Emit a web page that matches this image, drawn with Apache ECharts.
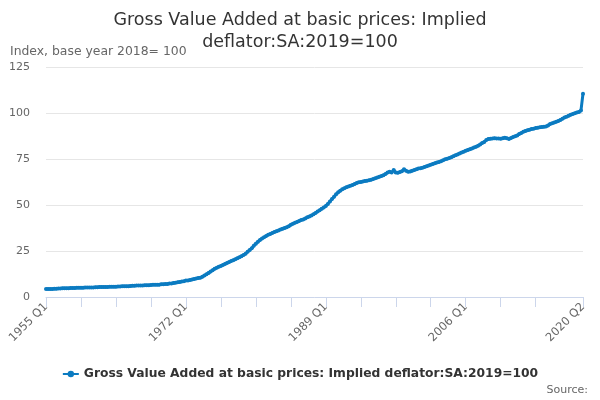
<!DOCTYPE html>
<html>
<head>
<meta charset="utf-8">
<script src="https://cdn.jsdelivr.net/npm/echarts@6/dist/echarts.min.js"></script>
<style>
  html, body { margin: 0; padding: 0; background: #fff; }
  #chart { width: 600px; height: 400px; }
</style>
</head>
<body>
<div id="chart"></div>
<script>
var firstYear = 1955;
var quarterNames = ['Q1', 'Q2', 'Q3', 'Q4'];
var yTicks = [0, 25, 50, 75, 100, 125];
var seriesName = 'Gross Value Added at basic prices: Implied deflator:SA:2019=100';

// one row per year, Q1..Q4 (2020 has Q1, Q2 only)
var values = [
    4.3, 4.3, 4.4, 4.4,      // 1955
    4.5, 4.5, 4.6, 4.6,
    4.7, 4.7, 4.8, 4.8,
    4.9, 4.9, 4.9, 5.0,
    5.0, 5.0, 5.0, 5.1,
    5.1, 5.1, 5.2, 5.2,      // 1960
    5.3, 5.3, 5.4, 5.4,
    5.5, 5.5, 5.5, 5.6,
    5.6, 5.6, 5.6, 5.7,
    5.7, 5.8, 5.8, 5.9,
    5.9, 6.0, 6.1, 6.1,      // 1965
    6.2, 6.2, 6.3, 6.3,
    6.4, 6.4, 6.4, 6.5,
    6.6, 6.6, 6.7, 6.7,
    6.9, 6.9, 7.0, 7.1,
    7.3, 7.4, 7.6, 7.8,      // 1970
    8.0, 8.2, 8.4, 8.6,
    8.9, 9.0, 9.2, 9.5,
    9.8, 10.0, 10.3, 10.5,
    11.0, 11.7, 12.4, 13.1,
    13.8, 14.6, 15.3, 15.9,  // 1975
    16.5, 16.9, 17.4, 18.0,
    18.5, 19.0, 19.5, 20.0,
    20.5, 21.1, 21.6, 22.2,
    22.8, 23.5, 24.6, 25.5,
    26.5, 27.8, 29.0, 30.0,  // 1980
    31.0, 31.8, 32.5, 33.1,
    33.8, 34.3, 34.8, 35.3,
    35.8, 36.2, 36.7, 37.1,
    37.5, 37.9, 38.5, 39.2,
    39.8, 40.3, 40.8, 41.3,  // 1985
    41.8, 42.1, 42.7, 43.3,
    43.8, 44.3, 45.0, 45.7,
    46.5, 47.2, 47.9, 48.7,
    49.5, 50.6, 51.9, 53.2,
    54.5, 55.8, 56.9, 57.8,  // 1990
    58.5, 59.1, 59.7, 60.1,
    60.5, 60.9, 61.4, 61.9,
    62.3, 62.5, 62.8, 63.0,
    63.2, 63.4, 63.7, 64.1,
    64.5, 64.9, 65.3, 65.7,  // 1995
    66.2, 66.9, 67.6, 68.1,
    67.7, 69.0, 67.7, 67.5,
    67.9, 68.4, 69.4, 68.6,
    68.1, 68.2, 68.6, 69.0,
    69.4, 69.8, 70.0, 70.3,  // 2000
    70.7, 71.1, 71.4, 71.9,
    72.3, 72.7, 73.1, 73.4,
    73.8, 74.3, 74.8, 75.1,
    75.5, 76.0, 76.5, 77.0,
    77.5, 78.0, 78.5, 79.0,  // 2005
    79.5, 79.9, 80.3, 80.7,
    81.2, 81.6, 82.2, 82.9,
    83.7, 84.3, 85.3, 85.9,
    86.0, 86.1, 86.3, 86.1,
    86.2, 86.0, 86.3, 86.5,  // 2010
    86.3, 85.9, 86.4, 86.9,
    87.3, 87.8, 88.6, 89.1,
    89.8, 90.2, 90.6, 90.9,
    91.3, 91.5, 91.8, 92.0,
    92.2, 92.4, 92.5, 92.7,  // 2015
    93.2, 94.0, 94.4, 94.8,
    95.2, 95.7, 96.2, 96.9,
    97.6, 98.0, 98.5, 99.0,
    99.4, 99.8, 100.3, 100.6,
    101.3, 110.5             // 2020
];

var categories = [];
for (var i = 0; i < values.length; i++) {
    categories.push((firstYear + Math.floor(i / 4)) + ' ' + quarterNames[i % 4]);
}
var last = categories.length - 1;

var myChart = echarts.init(document.getElementById('chart'));
var option = {
    animation: false,
    textStyle: { fontFamily: 'DejaVu Sans' },
    title: {
        text: 'Gross Value Added at basic prices: Implied\ndeflator:SA:2019=100',
        left: 'center',
        top: 4,
        textStyle: { fontSize: 17.5, fontWeight: 'normal', color: '#333', lineHeight: 22 }
    },
    graphic: [
        { type: 'text', left: 10, top: 46, style: { text: 'Index, base year 2018= 100', fontSize: 12.4, fill: '#666', fontFamily: 'DejaVu Sans' } },
        { type: 'text', right: 12, top: 385, style: { text: 'Source:', fontSize: 11, fill: '#666', fontFamily: 'DejaVu Sans' } }
    ],
    legend: {
        bottom: 15,
        left: 'center',
        itemWidth: 16,
        itemHeight: 8,
        itemGap: 6,
        textStyle: { fontSize: 12.3, fontWeight: 'bold', color: '#333' },
        data: [seriesName]
    },
    grid: { left: 46, right: 17, top: 67, bottom: 103 },
    xAxis: {
        type: 'category',
        data: categories,
        boundaryGap: false,
        axisLine: { lineStyle: { color: '#ccd6eb' } },
        axisTick: {
            length: 10,
            lineStyle: { color: '#ccd6eb' },
            interval: function (idx) { return (idx % 17 === 0 && idx < 250) || idx === last; }
        },
        axisLabel: {
            rotate: 45,
            fontSize: 11.5,
            color: '#666',
            margin: 8,
            interval: function (idx) { return idx % 68 === 0 || idx === last; }
        }
    },
    yAxis: {
        type: 'value',
        min: yTicks[0],
        max: yTicks[yTicks.length - 1],
        interval: 25,
        axisLine: { show: false },
        axisTick: { show: false },
        axisLabel: { fontSize: 11, color: '#666', margin: 16 },
        splitLine: { lineStyle: { color: '#e6e6e6' } }
    },
    series: [{
        name: seriesName,
        type: 'line',
        data: values,
        symbol: 'circle',
        symbolSize: 4,
        showAllSymbol: true,
        lineStyle: { width: 3, color: '#0b7bc1' },
        itemStyle: { color: '#0b7bc1' }
    }]
};
myChart.setOption(option);
</script>
</body>
</html>
